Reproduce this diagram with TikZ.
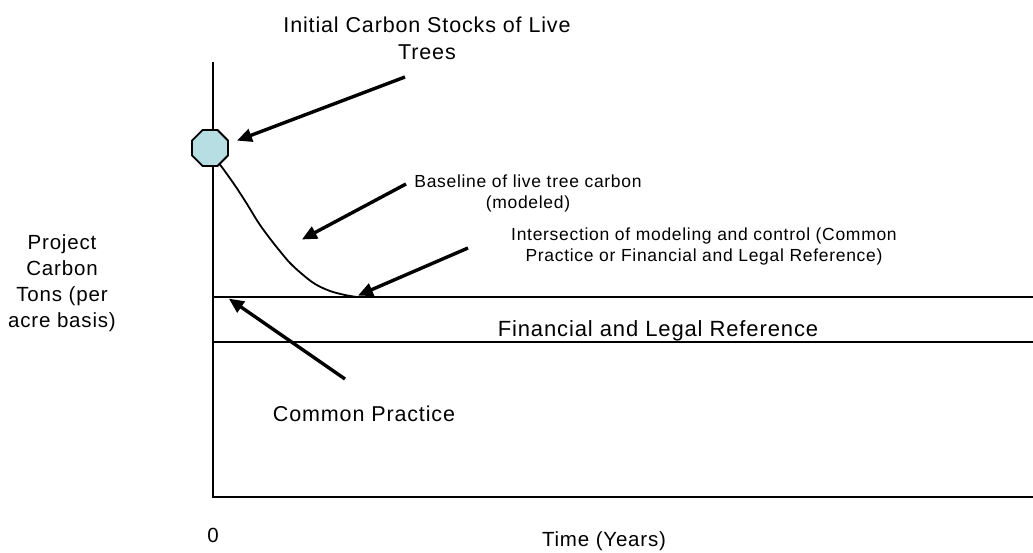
\documentclass[tikz,border=0pt]{standalone}
\usepackage{fontspec}
\setmainfont{Liberation Sans}[LetterSpace=4]
\usetikzlibrary{arrows.meta,shapes.geometric}
\begin{document}
\begin{tikzpicture}[x=1pt,y=-1pt,
  lbl/.style={font=\fontsize{20.5}{31}\selectfont, align=center, inner sep=0pt},
  small/.style={font=\fontsize{17.5}{21}\selectfont},
  axis/.style={line width=2.6pt},
  level/.style={line width=2pt},
  pointer/.style={line width=3.4pt, -{Triangle[length=15pt,width=13pt]}, shorten >=1pt},
  stock/.style={regular polygon, regular polygon sides=8, minimum size=39pt,
    inner sep=0pt, draw, line width=1.8pt, fill=octfill},
]
\definecolor{octfill}{HTML}{B7DEE2}
\useasboundingbox (0,0) rectangle (1033,553);

% axes
\coordinate (ytop) at (213,62);
\coordinate (orig) at (213,497);
\coordinate (xend) at (1033,497);
\draw[axis] (ytop) -- (orig) -- (xend);

% reference levels
\coordinate (l1a) at (213,297);
\coordinate (l1b) at (1033,297);
\coordinate (l2a) at (213,342);
\coordinate (l2b) at (1033,342);
\draw[level] (l1a) -- (l1b);
\draw[level] (l2a) -- (l2b);

% modeled baseline curve
\draw[line width=1.8pt, line join=round] plot[smooth, tension=0.55] coordinates {
  (212,154) (224,170) (236,187) (247,204) (258,222) (268,236)
  (279,250) (290,263) (302,274) (315,284) (330,291) (345,295) (357,297)};

% initial stocks marker
\node[stock] (init) at (210,148) {};

% labels
\node[lbl, font=\fontsize{21.5}{27}\selectfont] (tinit) at (427,38) {Initial Carbon Stocks of Live\\Trees};
\node[lbl, small] (tbase) at (528,193) {Baseline of live tree carbon\\(modeled)};
\node[lbl, small] (tint) at (704,246) {Intersection of modeling and control (Common\\Practice or Financial and Legal Reference)};
\node[lbl, font=\fontsize{22}{26}\selectfont] (tfin) at (658,331) {Financial and Legal Reference};
\node[lbl, font=\fontsize{21.5}{26}\selectfont] (tcom) at (364,414) {Common Practice};
\node[lbl, font=\fontsize{20.5}{26}\selectfont] (tproj) at (62,283) {Project\\Carbon\\Tons (per\\acre basis)};
\node[lbl] (tzero) at (213,535) {0};
\node[lbl] (ttime) at (604,541) {Time (Years)};

% pointers
\coordinate (a1s) at (405,77);
\coordinate (a1e) at (236,141);
\coordinate (a2s) at (406,184);
\coordinate (a2e) at (301,240);
\coordinate (a3s) at (468,248);
\coordinate (a3e) at (357,296);
\coordinate (a4s) at (345,379);
\coordinate (a4e) at (228,298);
\draw[pointer] (a1s) -- (a1e);
\draw[pointer] (a2s) -- (a2e);
\draw[pointer] (a3s) -- (a3e);
\draw[pointer] (a4s) -- (a4e);
\end{tikzpicture}
\end{document}
